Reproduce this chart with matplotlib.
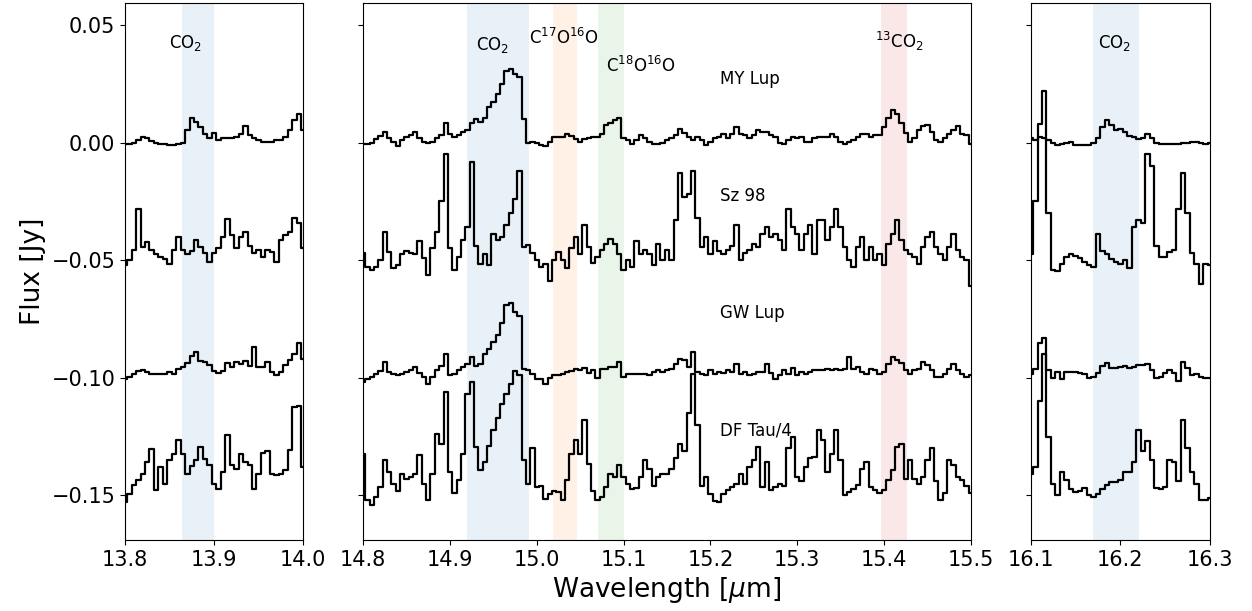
import numpy as np
import matplotlib
matplotlib.use("Agg")
import matplotlib.pyplot as plt

# ---------------- data (flux in mJy, as plotted, before vertical offset) ----------------
step = 0.005
wl_left = np.round(np.arange(13.800, 14.000 + 1e-9, step), 3)
wl_mid = np.round(np.arange(14.800, 15.500 + 1e-9, step), 3)
wl_right = np.round(np.arange(16.100, 16.300 + 1e-9, step), 3)

names = ["MY Lup", "Sz 98", "GW Lup", "DF Tau/4"]
offsets = [0.00, -0.05, -0.10, -0.15]

my_lup_left = [-0.4, -0.6, 0, 1.0, 2.5, 2.2, 0.8, 0, -0.6, -0.6, -0.8, -1.0, -0.6, -0.3, 5.3, 10.7, 8.9, 6.7, 3.9, 2.2,
               4.0, 1.3, 1.8, 1.8, 2.2, 2.5, 3.9, 7.0, 3.2, 1.8, 1.1, 0.4, 0.2, 0.5, 1.1, 1.3, 2.5, 5.3, 9.6, 12.4, 5.3]
sz98_left = [-2.1, 0, 4.3, 22, 5.7, 7.8, 4.3, 2.8, 1.4, 0.5, -1.4, 4.3, 10, 4.3, 2.5, 4, 8.5, 5.7, 3, -0.7,
             3, 5, 10, 17.7, 10.6, 5, 9.9, 12, 6, 3, 4.3, 1.4, 4.3, 3.5, -0.7, 8.5, 10.6, 12, 18, 16, 5]
gw_lup_left = [-0.4, 0.5, 1.8, 2.8, 3.5, 2.5, 1.8, 1.4, 1.4, 1.4, 2.5, 1.8, 3.9, 4.5, 6.4, 9.2, 11, 7.1, 6.7, 5.3,
               3, 2, 2.8, 6.5, 4.6, 6.7, 6, 7, 5, 13, 4.5, 4.6, 6.7, 2.5, 1, 2.5, 5.3, 7.5, 10, 15, 8]
df_tau4_left = [-2.8, 0.5, 4.3, 6.4, 9.2, 14, 19.9, 2.1, 12, 5, 14.9, 17.7, 23.4, 17.7, 9.2, 12.5, 14.9, 20.6, 15.6, 12.8,
                5, 2.5, 9.9, 25.5, 12.8, 11.3, 17.7, 14, 12.8, 2.8, 9.2, 18, 19, 9.2, 8.5, 9.2, 10.6, 19.1, 37.6, 38, 12]

my_lup_mid = [-0.4, -0.6, 0, 1.6, 3, 4.6, 1.8, 0.3, -1.5, 1,
              2.5, 3.2, 4.6, 1.8, 0.3, -0.1, 0.3, 1.8, 3.2, 8.2,
              3.5, 2.5, 3.2, 4.6, 5.3, 8.2, 10, 8.9, 10.7, 15,
              17.4, 20.6, 25, 30.6, 31.5, 29.4, 28, 10, 0, 0.4,
              -0.3, -1, -1.5, 0.5, 2.5, 2.5, 2.5, 3.5, 3, 1.5,
              0.4, 1.6, 1.8, 2.5, 2.5, 3.5, 7.4, 8.5, 9.6, 10.5,
              2, 1, -0.4, 1, 3.2, 2, 0.4, -0.4, -0.6, 0,
              1.1, 1.8, 3.2, 6, 4, 2.5, 1.1, 2.5, 1, -1,
              0.3, 1.8, 2.5, 3.9, 2, 3.9, 6.7, 3.9, 3.2, 1.8,
              3.2, 5.3, 4.6, 4.5, 3.2, 2.5, 0, -0.6, 1.1, 2.5,
              1.8, 2.5, 0.4, 0.4, 1.8, 2.5, 2.5, 2.5, 3.5, 2.5,
              0.4, -0.4, 0.4, 1.1, 2.5, 3.9, 3.9, 2.5, 3.2, 3.2,
              6.7, 10.6, 14, 12.4, 8.5, 4, 0.4, 1.8, 5.3, 7,
              7.5, 4.6, 1, 0.4, 2, 3.9, 5.3, 7, 3.9, 3.2,
              -0.5]
sz98_mid = [3, -2.8, -4, -2.8, 0, 12, 3.5, -3.5, -2, 2.8,
            4, 3, 2.8, 8, 1, -6.4, 5, 12, 25, 45,
            5, -4, 1.5, 8.5, 14, 42, 6, -1.5, 2.8, -2,
            11.3, 8.5, 10, 14.9, 20, 26, 38, 5.7, 6.4, 3,
            0, -2.8, -1.4, -9, 0, 3.5, 0, -3.5, 5, 10,
            2.8, 15, 5.7, -1, 1.4, 4.3, 7, 9.2, 7, 2.8,
            -4, 0, -2.8, 8, 2.8, 4.3, 2.8, -2, 7.1, 0,
            4.3, 0, 17, 37, 27, 28, 38, 18, 5.7, 10,
            2.8, 8, 4, 2.8, 4.3, 6, 14.9, 0, 3, 4.3,
            7, 5.7, 11, 14, 10, 11.3, 8.5, 4.3, 22, 14,
            11.3, 4.3, 11.3, 15, 2.8, 17, 17, 8.5, 14, 22,
            14, 5.7, 0, -2.8, 5.7, 10, 0, 5.7, 0, 2.8,
            -2, 7, 11.3, 17, 8.5, 4.3, 2.8, 1.4, -1.4, 5.7,
            9.9, 12, 5.7, 2.8, 0, 5.7, 11.3, 4.3, 1.4, 0,
            -11]
gw_lup_mid = [-1.8, -0.4, 0.4, 1.8, 3, 6.7, 2.5, 1.8, 1, 1.8,
              2.5, 3.2, 4.6, 2, 0.4, -2.5, 0.4, 3.2, 5, 10.3,
              1, 1.8, 3.2, 4.6, 6, 8.9, 5, 5.7, 10.3, 12.4,
              15.2, 18, 23.5, 30.8, 31.8, 28, 26.3, 3.9, 3.2, 1.8,
              -0.4, -0.4, -2.5, 0, 1, 1, 1.4, 2.5, 3, 3.9,
              3.2, 4, 2, 3.2, 0, 3.9, 3.9, 4.6, 4.6, 6.7,
              0.4, 1.8, 1.4, 1.8, 1.8, 1.4, 1, 2.5, 3.2, 2.5,
              3.2, 3.9, 6, 8, 7.4, 4.6, 11, 2.5, 1.4, 1,
              3.2, 1.8, 2.5, 2, 3.2, 2.5, 6, 1.8, 2.5, 1,
              1.8, 2.5, 2.5, 6, 2, -0.4, 1, 3.2, 1.8, 4,
              1, 2.5, 1.8, 2.5, 3.2, 3.2, 3.2, 3.9, 3.2, 3.9,
              3.2, 3.9, 8.9, 3.9, 4.6, 2.5, 1.8, 3.9, 3.2, 1.8,
              2.5, 6, 8.9, 7.4, 6.5, 3.2, 1.8, 3.2, 3.9, 6.7,
              5.3, 3.2, 0.4, 0.4, 1.8, 3.9, 6, 3.2, 1.8, 0.4,
              1]
df_tau4_mid = [17.7, -2, -4, -0.5, 3.5, 15, 10, 5, 2, 9,
               7, 7.8, 9.2, 17, 5, -2, 9.2, 26, 22, 44,
               10, 1, 6.4, 17.7, 43, 48, 20.6, 10.6, 14, 21,
               28, 33, 39, 43, 47.5, 53, 51, 15, 5, 20,
               3.5, 4, -1.4, 0.7, 2, 1.4, -2, 6.4, 17.7, 23.4,
               17.7, 32, 13.5, 2, -2, -0.7, 3.5, 9.2, 8, 13,
               7.8, 5, 2.5, 3, 7.8, 14.9, 11.3, 4, 7.8, 9.2,
               9, 11.3, 16, 22, 19, 35, 51.8, 30, 4, 7.8,
               0.7, -2.5, -3, 0.7, 2.1, 3.5, 5, 9.2, 5, 12,
               14.9, 20.6, 3.5, 14, 2.1, 3.5, 5, 4, 20, 24.8,
               8, 6, 12, 16, 16.3, 28, 23.4, 10, 17.7, 28,
               15, 0, 1.4, 2.8, 4.3, 11.3, 14, 3.5, 2.1, 1,
               2.1, 6.4, 10.6, 20.6, 22, 7, 15, 7, 5, 8,
               15, 20, 6, -2, 1, 15, 13, 8, 6.4, 4,
               1]

my_lup_right = [1.8, 1, 2.5, 1.8, 1.1, -0.3, -1, -0.6, 0, 0.4, -1, -1.1, -1, -0.8, -0.3, 1.8, 6.7, 9.6, 7.5, 5.3,
                6, 4.6, 3, 2.5, 1.4, 1.8, 3.9, 1.8, 0, -0.6, -0.6, -0.4, -0.6, -0.4, -0.3, 0, 0.2, 0.3, 0, -0.6, 0]
sz98_right = [2.8, 25, 58, 72, 20, -4, -4.5, -1.4, 1.4, 2.8, 2, 1, -0.7, -2, -2.8, 11.3, 4, 2.8, 0.7, -0.7,
              -1.4, 0, -3.5, 14, 17, 16, 45, 40, 6, 1.4, 1.4, 3.5, 4.3, 22, 36.9, 20, 3, -1.4, -10, -1.4, -2.1]
gw_lup_right = [1.8, 3.9, 15, 17, 3.2, 0, 2.5, -0.5, 2.5, 2.5, 2.5, 2, 1.4, 0, 0.5, 2.1, 5, 6.5, 4, 4,
                4.5, 5, 4, 4.5, 5.3, 5.3, 6, 3.5, 0, 0.5, 2, 3.2, 2, -1.5, 6.7, 4, 1, 1.5, 0.5, 0, -0.3]
df_tau4_right = [9.2, 12, 40, 60, 25, 5, 0, 10, 6.4, 2.8, 1.4, 2, 3, 0, -0.7, 0.7, 2.8, 4.5, 5.5, 5.7,
                 6.4, 10, 9.9, 14, 27.7, 19, 23, 15, 3, 2.5, 3.5, 15, 14, 6, 32, 20, 10, 5, -2, -2.1, -1]

panels = [
    dict(wl=wl_left, spectra=[my_lup_left, sz98_left, gw_lup_left, df_tau4_left], xlim=(13.8, 14.0),
         xticks=[13.8, 13.9, 14.0],
         bands=[(13.864, 13.900, "tab:blue")],
         labels=[(13.868, 0.0401, r"CO$_2$")]),
    dict(wl=wl_mid, spectra=[my_lup_mid, sz98_mid, gw_lup_mid, df_tau4_mid], xlim=(14.8, 15.5),
         xticks=[14.8, 14.9, 15.0, 15.1, 15.2, 15.3, 15.4, 15.5],
         bands=[(14.919, 14.991, "tab:blue"), (15.019, 15.046, "tab:orange"),
                (15.070, 15.101, "tab:green"), (15.396, 15.426, "tab:red")],
         labels=[(14.949, 0.0395, r"CO$_2$"), (15.031, 0.0419, r"C$^{17}$O$^{16}$O"),
                 (15.120, 0.0301, r"C$^{18}$O$^{16}$O"), (15.418, 0.0401, r"$^{13}$CO$_2$")]),
    dict(wl=wl_right, spectra=[my_lup_right, sz98_right, gw_lup_right, df_tau4_right], xlim=(16.1, 16.3),
         xticks=[16.1, 16.2, 16.3],
         bands=[(16.169, 16.221, "tab:blue")],
         labels=[(16.193, 0.0401, r"CO$_2$")]),
]

name_x = 15.211
name_y = [0.027, -0.0225, -0.0723, -0.1223]

# ---------------- figure ----------------
fig = plt.figure(figsize=(12.52, 6.11), dpi=100)
gs = fig.add_gridspec(1, 3, width_ratios=[178.3, 607.7, 179.3],
                      left=0.0998, right=0.9665, bottom=0.1162, top=0.995, wspace=0.1865)
axes = []
for i, p in enumerate(panels):
    ax = fig.add_subplot(gs[0, i], sharey=axes[0] if axes else None)
    axes.append(ax)
    for lo, hi, c in p["bands"]:
        ax.axvspan(lo, hi, color=c, alpha=0.1, lw=0, zorder=0)
    for spec, off in zip(p["spectra"], offsets):
        ax.plot(p["wl"], np.asarray(spec) / 1000.0 + off, color="black", lw=1.6,
                drawstyle="steps-mid", zorder=2)
    for x, y, t in p["labels"]:
        ax.text(x, y, t, ha="center", va="baseline", fontsize=12)
    ax.set_xlim(*p["xlim"])
    ax.set_xticks(p["xticks"])
    ax.set_xticklabels([f"{v:.1f}" for v in p["xticks"]])
    ax.tick_params(labelsize=15)
    if i > 0:
        ax.tick_params(labelleft=False)

axes[0].set_ylim(-0.169, 0.0594)
axes[0].set_yticks([-0.15, -0.10, -0.05, 0.00, 0.05])
axes[0].set_yticklabels(["\u22120.15", "\u22120.10", "\u22120.05", "0.00", "0.05"])
axes[0].set_ylabel("Flux [Jy]", fontsize=19)
axes[1].set_xlabel(r"Wavelength [$\mu$m]", fontsize=19)

for n, y in zip(names, name_y):
    axes[1].text(name_x, y, n, ha="left", va="center", fontsize=12)

fig.savefig("out.png", dpi=100)
